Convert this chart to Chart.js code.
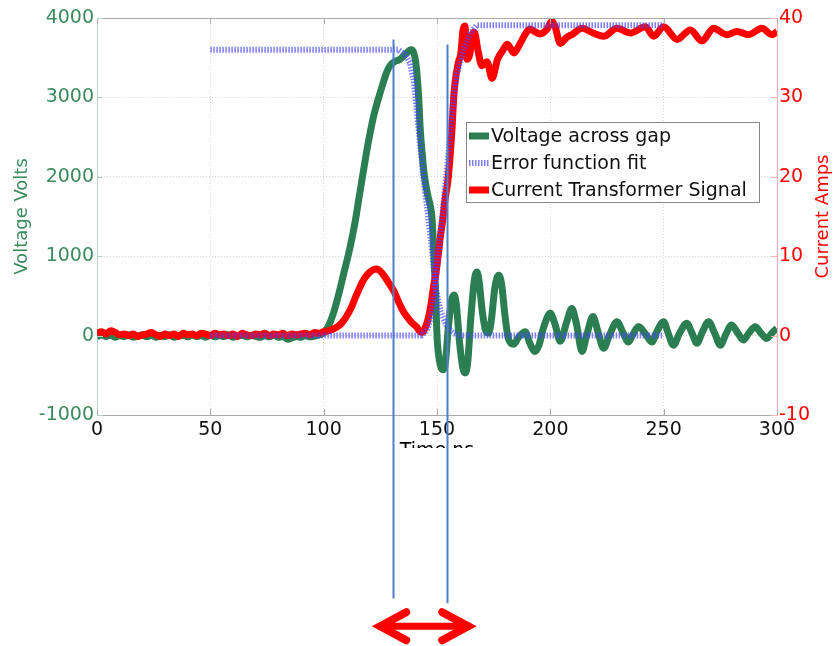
<!DOCTYPE html>
<html>
<head>
<meta charset="utf-8">
<script src="https://cdn.jsdelivr.net/npm/chart.js@4.4.0/dist/chart.umd.min.js"></script>
<style>
  html, body { margin: 0; padding: 0; background: #fff; }
  canvas { display: block; }
</style>
</head>
<body>
<canvas id="gapChart" width="835" height="646"></canvas>
<script>
// voltage across the gap (V) vs time (ns)
const voltTimes = [
  0, 2, 4, 6, 8, 10, 12, 14, 16, 18,
  20, 22, 24, 26, 28, 30, 32, 34, 36, 38,
  40, 42, 44, 46, 48, 50, 52, 54, 56, 58,
  60, 62, 64, 66, 68, 70, 72, 74, 76, 78,
  80, 82, 84, 86, 88, 90, 92, 94, 96, 98,
  100, 101.5, 103, 104.5, 106, 107.5, 109, 111, 112.5, 114,
  115.5, 117, 118.5, 120, 122, 124, 126, 128, 129.5, 131.5,
  133, 134.5, 136.7, 138, 139, 140.3, 141, 141.9, 142.6, 143.5,
  144.5, 146, 147, 147.8, 148.5, 149.3, 150, 151, 152.5, 153.5,
  155, 156.5, 157.5, 158.5, 160, 161.5, 162.5, 163.5, 165, 166.5,
  167.6, 168.5, 170, 171.5, 172.7, 174, 175.5, 177.2, 178.5, 180,
  181.5, 183.8, 186, 188.9, 191, 193.3, 195, 197, 200, 202,
  204.4, 207, 209.5, 211.5, 214, 216, 218.8, 221, 223.5, 226,
  229.4, 232, 234.5, 236.5, 238.9, 242, 244.8, 247, 250, 252,
  254.3, 257, 260.2, 262.5, 264.7, 267, 269.8, 272.5, 275, 277.5,
  280, 282.5, 285.2, 287.5, 290.4, 293, 295.5, 298, 300
];
const voltValues = [
  -15, 10, -10, 5, -20, 0, -10, 10, -20, -5,
  10, -15, 5, -20, 0, -10, 10, -20, -5, 5,
  -15, 10, -10, 0, -20, 5, -15, 0, -10, 10,
  -20, -5, 5, -15, 0, -10, -20, 0, -15, 5,
  -20, -10, -45, -30, -10, -20, 0, -15, -5, 10,
  30, 90, 180, 300, 450, 620, 800, 1030, 1230, 1450,
  1720, 1980, 2240, 2480, 2760, 2970, 3160, 3330, 3405, 3455,
  3470, 3500, 3560, 3595, 3600, 3500, 3350, 3010, 2600, 2280,
  2000, 1760, 1640, 1480, 1100, 600, 0, -300, -430, -380,
  100, 450, 510, 400, -100, -420, -470, -350, 250, 700,
  800, 700, 300, 60, 30, 200, 600, 760, 650, 250,
  -40, -110, -20, 50, -100, -200, -120, 100, 280, 150,
  -70, 150, 340, 150, -200, 0, 240, 50, -160, 0,
  175, 40, -80, 20, 115, 20, -80, 50, 175, 30,
  -120, 30, 155, 30, -95, 40, 175, 30, -120, 20,
  135, 40, -55, 30, 110, 30, -35, 40, 90
];

// current transformer signal (A) vs time (ns)
const currTimes = [
  0, 2, 4, 6, 8, 10, 12, 14, 16, 18,
  20, 22, 24, 26, 28, 30, 32, 34, 36, 38,
  40, 42, 44, 46, 48, 50, 52, 54, 56, 58,
  60, 62, 64, 66, 68, 70, 72, 74, 76, 78,
  80, 82, 84, 86, 88, 90, 92, 94, 96, 98,
  100,
  102, 104, 106, 108, 110, 112, 114, 116, 118, 120,
  122, 123.5, 125, 127, 129, 131, 133, 135, 137, 139,
  141, 142.5, 143.5, 144.5, 146, 147.5, 148.5, 149.5, 150.5, 151.5,
  152.5, 153.5, 155, 156.5, 157.5, 158.5, 159.5, 160.5, 161.5, 162.3,
  163.3, 164.5, 165.5, 166.5, 168, 169.8, 172, 174.3, 176.7, 179,
  181, 184, 186.5, 189, 191, 193, 195.6, 198.5, 200.7, 202,
  204.4, 207, 210, 214, 219, 223.5, 229.4, 235.3, 241.9, 245.6,
  250, 255.9, 261.8, 266.9, 272, 277.9, 282.3, 287.4, 293.3, 297.8,
  300
];
const currValues = [
  0.3, 0.5, 0.2, 0.6, 0.4, 0.1, 0.2, 0.0, 0.2, -0.1,
  0.1, 0.2, 0.4, 0.1, -0.1, 0.2, 0.0, 0.2, -0.1, 0.3,
  0.1, 0.2, 0.0, 0.3, 0.2, 0.0, 0.3, 0.1, 0.2, 0.0,
  0.2, -0.1, 0.3, 0.1, 0.0, 0.2, 0.1, 0.3, 0.0, 0.2,
  0.1, 0.3, 0.0, 0.2, 0.1, 0.2, 0.3, 0.1, 0.4, 0.3,
  0.5,
  0.6, 0.8, 1.1, 1.6, 2.4, 3.4, 4.8, 6.1, 7.2, 7.9,
  8.3, 8.4, 8.1, 7.4, 6.5, 5.6, 4.3, 3.1, 2.3, 1.6,
  1.1, 0.5, 0.4, 0.8, 2.0, 4.2, 6.2, 7.8, 10.0, 12.5,
  14.5, 17.0, 20.0, 25.5, 30.5, 33.0, 34.5, 35.5, 38.5, 39.0,
  34.8, 35.5, 37.8, 38.2, 36.0, 34.0, 34.5, 32.4, 34.8, 35.9,
  36.7, 35.6, 36.7, 38.0, 38.6, 38.3, 38.0, 38.6, 39.6, 39.0,
  36.8, 37.5, 38.0, 38.7, 38.1, 37.7, 38.7, 38.1, 38.9, 37.7,
  38.9, 37.3, 38.5, 37.1, 38.7, 37.9, 38.3, 37.9, 38.7, 37.9,
  38.3
];

// error function fits: falling voltage (V) and rising current (A)
const fitVoltTimes = [50, 133, 136, 138, 139.7, 141.2, 142.6, 144.1, 145.6, 147.5, 149.2, 151.4, 154.4, 157.3, 160, 250];
const fitVoltValues = [3600, 3600, 3540, 3440, 3220, 2800, 2380, 1960, 1620, 1150, 640, 320, 110, 30, 0, 0];
const fitCurrTimes = [50, 143, 145.6, 147.8, 149.2, 150.7, 152.9, 154.4, 155.9, 157.4, 158.8, 160.3, 161.7, 164.7, 167.6, 250];
const fitCurrValues = [0, 0, 0.7, 2.8, 6.2, 10.4, 16.7, 20.9, 25.9, 30.1, 33.0, 34.5, 36.0, 38.1, 39.1, 39.1];

// vertical marker lines (ns) with their extents (V), and the double arrow below
const markerTimes = [130.4, 154.4];
const markerTops = [3730, 3665];
const markerBottoms = [-3310, -3370];
const arrowTimes = [121.4, 167.3];
const arrowLevel = -3660;

const GREEN = '#2b7d52';
const GREEN_TXT = '#3b8b5e';
const RED = '#ff0000';
const FIT_BLUE = 'rgba(70, 70, 255, 0.7)';
const FONT = '"DejaVu Sans", sans-serif';

const toPoints = (xs, ys) => xs.map((t, i) => ({ x: t, y: ys[i] }));
const plainTick = v => String(v);

const overlay = {
  id: 'overlay',
  afterDraw(chart) {
    const { ctx, chartArea: a } = chart;
    const x = chart.scales.x;
    const y = chart.scales.y;
    const y1 = chart.scales.y1;

    // top border of the box
    ctx.save();
    ctx.strokeStyle = '#aaaaaa';
    ctx.lineWidth = 1;
    ctx.beginPath();
    ctx.moveTo(a.left, a.top + 0.5);
    ctx.lineTo(a.right, a.top + 0.5);
    ctx.stroke();

    // short inward tick marks, matlab style
    const TL = 6;
    ctx.beginPath();
    x.ticks.forEach(t => {
      const px = Math.round(x.getPixelForValue(t.value)) + 0.5;
      ctx.moveTo(px, a.bottom); ctx.lineTo(px, a.bottom - TL);
      ctx.moveTo(px, a.top); ctx.lineTo(px, a.top + TL);
    });
    ctx.stroke();
    ctx.strokeStyle = '#b8d4c4';
    ctx.beginPath();
    y.ticks.forEach(t => {
      const py = Math.round(y.getPixelForValue(t.value)) + 0.5;
      ctx.moveTo(a.left, py); ctx.lineTo(a.left + TL, py);
    });
    ctx.stroke();
    ctx.strokeStyle = '#ffb0b0';
    ctx.beginPath();
    y1.ticks.forEach(t => {
      const py = Math.round(y1.getPixelForValue(t.value)) + 0.5;
      ctx.moveTo(a.right, py); ctx.lineTo(a.right - TL, py);
    });
    ctx.stroke();
    ctx.restore();

    // x axis title, cut off at its top
    ctx.save();
    ctx.beginPath();
    ctx.rect(0, 0, chart.width, 448);
    ctx.clip();
    ctx.fillStyle = '#000';
    ctx.font = '19px ' + FONT;
    ctx.textAlign = 'center';
    ctx.textBaseline = 'alphabetic';
    ctx.fillText('Time ns', (a.left + a.right) / 2, 456);
    ctx.restore();

    // right axis title, reading bottom to top
    ctx.save();
    ctx.translate(823, (a.top + a.bottom) / 2);
    ctx.rotate(-Math.PI / 2);
    ctx.fillStyle = RED;
    ctx.font = '18px ' + FONT;
    ctx.textAlign = 'center';
    ctx.textBaseline = 'middle';
    ctx.fillText('Current Amps', 0, 0);
    ctx.restore();

    // legend box
    const lx = 466, ly = 122, lw = 293, lh = 80;
    ctx.save();
    ctx.fillStyle = '#fff';
    ctx.fillRect(lx, ly, lw, lh);
    ctx.strokeStyle = '#888';
    ctx.lineWidth = 1;
    ctx.strokeRect(lx + 0.5, ly + 0.5, lw, lh);
    const entries = [
      { text: 'Voltage across gap', color: GREEN, width: 7, dash: [] },
      { text: 'Error function fit', color: FIT_BLUE, width: 6, dash: [1.5, 1.5] },
      { text: 'Current Transformer Signal', color: RED, width: 7, dash: [] }
    ];
    ctx.font = '19px ' + FONT;
    ctx.textBaseline = 'middle';
    ctx.textAlign = 'left';
    entries.forEach((e, i) => {
      const cy = ly + 14 + i * 27;
      ctx.strokeStyle = e.color;
      ctx.lineWidth = e.width;
      ctx.setLineDash(e.dash);
      ctx.beginPath();
      ctx.moveTo(lx + 3, cy);
      ctx.lineTo(lx + 23, cy);
      ctx.stroke();
      ctx.setLineDash([]);
      ctx.fillStyle = '#111';
      ctx.fillText(e.text, lx + 25, cy + 1);
    });
    ctx.restore();

    // vertical markers
    ctx.save();
    ctx.strokeStyle = '#4f7fc4';
    ctx.lineWidth = 2;
    markerTimes.forEach((t, i) => {
      const px = Math.round(x.getPixelForValue(t)) + 0.5;
      ctx.beginPath();
      ctx.moveTo(px, y.getPixelForValue(markerTops[i]));
      ctx.lineTo(px, y.getPixelForValue(markerBottoms[i]));
      ctx.stroke();
    });
    ctx.restore();

    // red double arrow
    const x0 = x.getPixelForValue(arrowTimes[0]);
    const x1 = x.getPixelForValue(arrowTimes[1]);
    const ay = y.getPixelForValue(arrowLevel);
    ctx.save();
    ctx.strokeStyle = RED;
    ctx.lineWidth = 7;
    ctx.lineCap = 'butt';
    ctx.beginPath();
    ctx.moveTo(x0 + 8, ay);
    ctx.lineTo(x1 - 8, ay);
    ctx.stroke();
    ctx.lineWidth = 8;
    ctx.lineCap = 'round';
    ctx.lineJoin = 'miter';
    ctx.miterLimit = 4;
    ctx.beginPath();
    ctx.moveTo(x0 + 34, ay - 14);
    ctx.lineTo(x0 + 8, ay);
    ctx.lineTo(x0 + 34, ay + 14);
    ctx.moveTo(x1 - 34, ay - 14);
    ctx.lineTo(x1 - 8, ay);
    ctx.lineTo(x1 - 34, ay + 14);
    ctx.stroke();
    ctx.restore();
  }
};

new Chart(document.getElementById('gapChart'), {
  type: 'line',
  data: {
    datasets: [
      {
        label: 'Error function fit',
        data: toPoints(fitVoltTimes, fitVoltValues),
        yAxisID: 'y',
        borderColor: FIT_BLUE,
        borderWidth: 6,
        borderDash: [1.5, 1.5],
        pointRadius: 0
      },
      {
        label: 'Error function fit',
        data: toPoints(fitCurrTimes, fitCurrValues),
        yAxisID: 'y1',
        borderColor: FIT_BLUE,
        borderWidth: 6,
        borderDash: [1.5, 1.5],
        pointRadius: 0
      },
      {
        label: 'Current Transformer Signal',
        data: toPoints(currTimes, currValues),
        yAxisID: 'y1',
        borderColor: RED,
        borderWidth: 7,
        pointRadius: 0,
        cubicInterpolationMode: 'monotone'
      },
      {
        label: 'Voltage across gap',
        data: toPoints(voltTimes, voltValues),
        yAxisID: 'y',
        borderColor: GREEN,
        borderWidth: 7,
        pointRadius: 0,
        cubicInterpolationMode: 'monotone'
      }
    ]
  },
  options: {
    responsive: false,
    animation: false,
    devicePixelRatio: 1,
    layout: { padding: { top: 18, left: 0, right: 0, bottom: 0 } },
    plugins: { legend: { display: false }, tooltip: { enabled: false } },
    scales: {
      x: {
        type: 'linear',
        min: 0,
        max: 300,
        ticks: { stepSize: 50, color: '#111', font: { family: FONT, size: 19 }, padding: 4, maxRotation: 0, callback: plainTick },
        grid: { color: '#d4d4d4', drawTicks: false },
        border: { color: '#aaaaaa', dash: [1, 2] },
        afterFit(scale) { scale.height = 231; }
      },
      y: {
        position: 'left',
        min: -1000,
        max: 4000,
        ticks: { stepSize: 1000, color: GREEN_TXT, font: { family: FONT, size: 19 }, padding: 3, callback: plainTick },
        grid: { color: '#d4d4d4', drawTicks: false },
        border: { color: '#b8d4c4', dash: [1, 2] },
        title: { display: true, text: 'Voltage Volts', color: GREEN_TXT, font: { family: FONT, size: 18 }, padding: { top: 12, bottom: 0 } },
        afterFit(scale) { scale.width = 97; }
      },
      y1: {
        position: 'right',
        min: -10,
        max: 40,
        ticks: { stepSize: 10, color: RED, font: { family: FONT, size: 19 }, padding: 2, callback: plainTick },
        grid: { drawOnChartArea: false, drawTicks: false },
        border: { color: '#ffb0b0' },
        afterFit(scale) { scale.width = 58; }
      }
    }
  },
  plugins: [overlay]
});
</script>
</body>
</html>
